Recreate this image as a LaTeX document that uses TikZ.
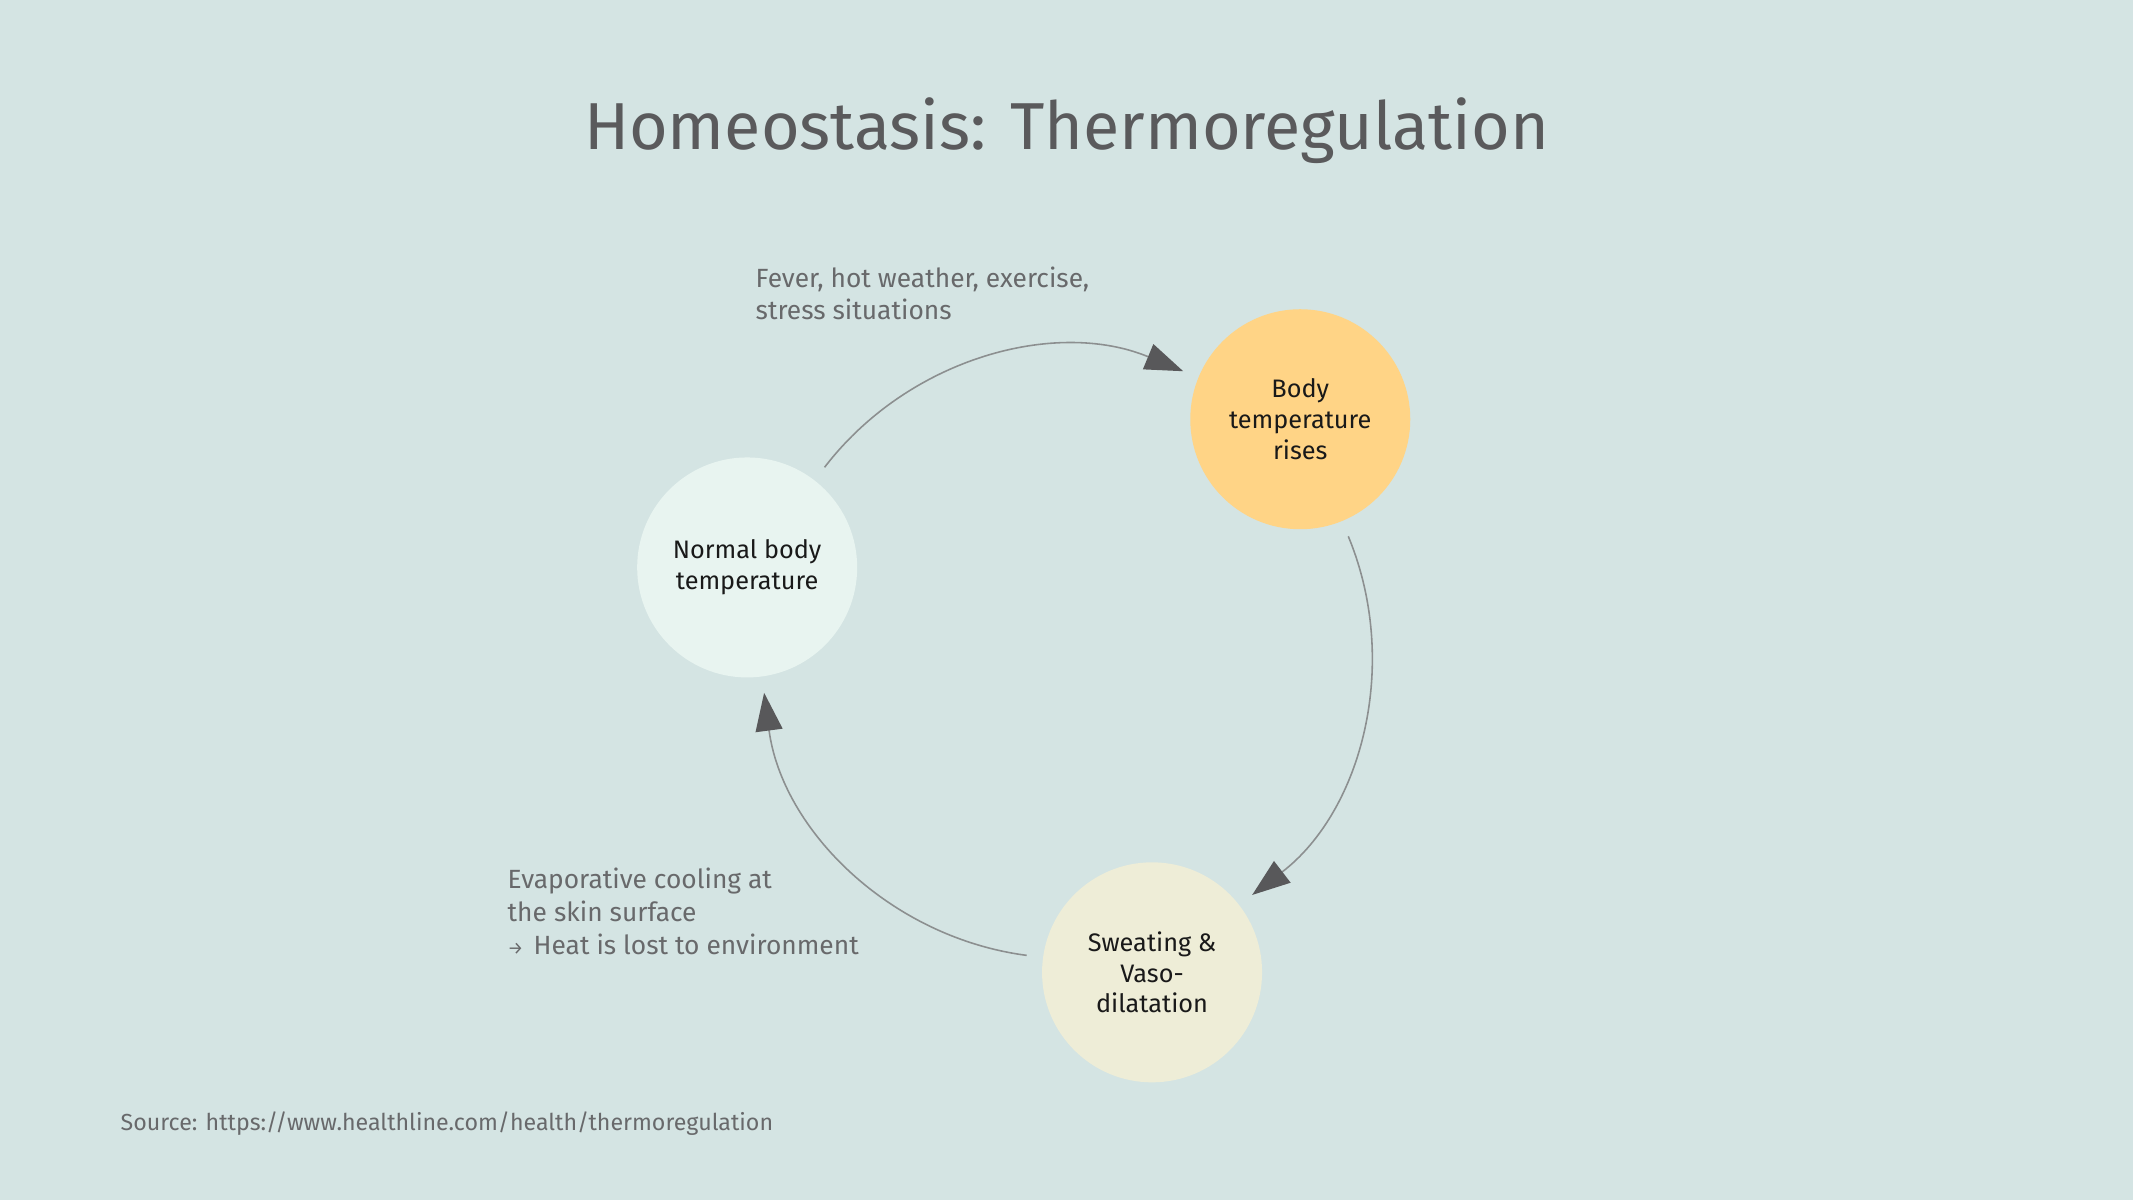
\documentclass[tikz,border=0pt]{standalone}
\usepackage{fontspec}
\setmainfont{Fira Sans}
\usetikzlibrary{arrows.meta}
\definecolor{bgc}{HTML}{D4E4E3}
\definecolor{normc}{HTML}{E8F4F0}
\definecolor{risec}{HTML}{FFD486}
\definecolor{sweatc}{HTML}{EEEDD7}
\definecolor{titlec}{HTML}{5A5A5C}
\definecolor{notec}{HTML}{68696B}
\definecolor{linec}{HTML}{8C8F90}
\definecolor{tipc}{HTML}{58585A}
\tikzset{
  state/.style={circle, minimum size=2.2cm, inner sep=0pt, align=center,
    font=\fontsize{7.2}{8.7}\selectfont, text=black!90},
  note/.style={anchor=base west, align=left, inner sep=0pt, text=notec,
    font=\fontsize{7.5}{9.3}\selectfont},
  cyc/.style={draw=linec, line width=0.45pt,
    -{Triangle[length=3.8mm,width=2.7mm,color=tipc,fill=tipc]}}
}
\begin{document}
\begin{tikzpicture}
\fill[bgc] (0,0) rectangle (21.33,12);
\useasboundingbox (0,0) rectangle (21.33,12);
\node[anchor=base, text=titlec, font=\fontsize{18.9}{22}\selectfont, inner sep=0pt] (title) at (10.665,10.5) {Homeostasis: Thermoregulation};
\coordinate (C) at (10.665,5.47);
\node[state, fill=normc] (normal) at ([shift={(165:3.306)}]C) {Normal body\\temperature};
\node[state, fill=risec] (rise) at ([shift={(45:3.306)}]C) {Body\\temperature\\rises};
\node[state, fill=sweatc] (sweat) at ([shift={(-75:3.306)}]C) {Sweating \&\\Vaso-\\dilatation};
\coordinate (a1s) at ([shift={(142.5:3.05)}]C);
\coordinate (a2s) at ([shift={(22.5:3.05)}]C);
\coordinate (a3s) at ([shift={(-97.5:3.05)}]C);
\draw[cyc] (a1s) arc[start angle=142.5, end angle=67.5, radius=3.05];
\draw[cyc] (a2s) arc[start angle=22.5, end angle=-52.5, radius=3.05];
\draw[cyc] (a3s) arc[start angle=-97.5, end angle=-172.5, radius=3.05];
\node[note] (cause) at (7.55,8.80) {Fever, hot weather, exercise,\\stress situations};
\node[note] (effect) at (5.07,2.46) {Evaporative cooling at\\the skin surface\\{\fontsize{5}{5}\selectfont →}\hspace{0.9pt} Heat is lost to environment};
\node[note, font=\fontsize{6.6}{8}\selectfont] (src) at (1.20,0.70) {Source: https://www.healthline.com/health/thermoregulation};
\end{tikzpicture}
\end{document}
